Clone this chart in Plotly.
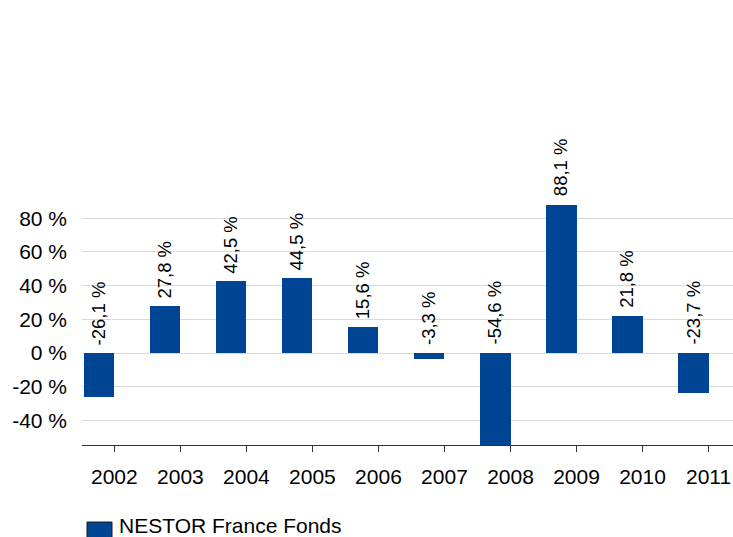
import plotly.graph_objects as go

years = ["2002", "2003", "2004", "2005", "2006", "2007", "2008", "2009", "2010", "2011"]
returns = [-26.1, 27.8, 42.5, 44.5, 15.6, -3.3, -54.6, 88.1, 21.8, -23.7]
series_name = "NESTOR France Fonds"
y_ticks = [-40, -20, 0, 20, 40, 60, 80]
y_tick_labels = ["-40 %", "-20 %", "0 %", "20 %", "40 %", "60 %", "80 %"]

BLUE = "#004494"
FONT = "Liberation Sans, Arial, sans-serif"

W, H = 733, 537
ML, MR, MT = 82, 0, 193
AXIS_BOTTOM = 445
MB = H - AXIS_BOTTOM
PW, PH = W - ML - MR, H - MT - MB

def px_x(p):
    return (p - ML) / PW

def px_y(p):
    return (AXIS_BOTTOM - p) / PH

fig = go.Figure()
fig.add_trace(go.Bar(
    x=list(range(len(years))), y=returns, name=series_name,
    marker=dict(color=BLUE, line=dict(width=0)),
    width=0.456, offset=-0.456, showlegend=False,
))

annotations = []
for i, v in enumerate(returns):
    annotations.append(dict(
        x=i, y=max(v, 0), xref="x", yref="y",
        text=f"{v:.1f} %".replace(".", ","),
        textangle=-90, showarrow=False,
        xanchor="center", yanchor="bottom",
        xshift=-16, yshift=6,
        font=dict(family=FONT, size=18.5, color="#000000"),
    ))

annotations.append(dict(
    x=px_x(117), y=px_y(525), xref="paper", yref="paper",
    text=series_name, showarrow=False, xanchor="left", yanchor="middle",
    font=dict(family=FONT, size=21, color="#000000"),
))

fig.update_layout(
    width=W, height=H,
    margin=dict(l=ML, r=MR, t=MT, b=MB, pad=0),
    paper_bgcolor="white", plot_bgcolor="white",
    font=dict(family=FONT, size=21, color="#000000"),
    bargap=0,
    xaxis=dict(
        range=[-0.49, 9.37], tickmode="array",
        tickvals=list(range(len(years))), ticktext=years,
        showgrid=False, zeroline=False,
        showline=True, linecolor="#333333", linewidth=1,
        ticks="outside", ticklen=6, tickcolor="#333333", tickwidth=1,
        ticklabelstandoff=7,
        tickfont=dict(family=FONT, size=21, color="#000000"),
    ),
    yaxis=dict(
        range=[-54.6, 95], tickmode="array",
        tickvals=y_ticks, ticktext=y_tick_labels,
        showgrid=True, gridcolor="#d9d9d9", gridwidth=1,
        zeroline=False, showline=False, ticks="",
        ticklabelstandoff=14,
        tickfont=dict(family=FONT, size=21, color="#000000"),
    ),
    annotations=annotations,
    shapes=[dict(
        type="rect", xref="paper", yref="paper",
        x0=px_x(87), x1=px_x(112), y0=px_y(550), y1=px_y(522),
        fillcolor=BLUE, line=dict(color="#1a1a1a", width=1),
    )],
)

page_css = (
    "document.documentElement.style.overflow='hidden';"
    "document.body.style.overflow='hidden';"
    "document.body.style.margin='0';"
)
fig.write_html("out.html", post_script=page_css, config={"displayModeBar": False})
